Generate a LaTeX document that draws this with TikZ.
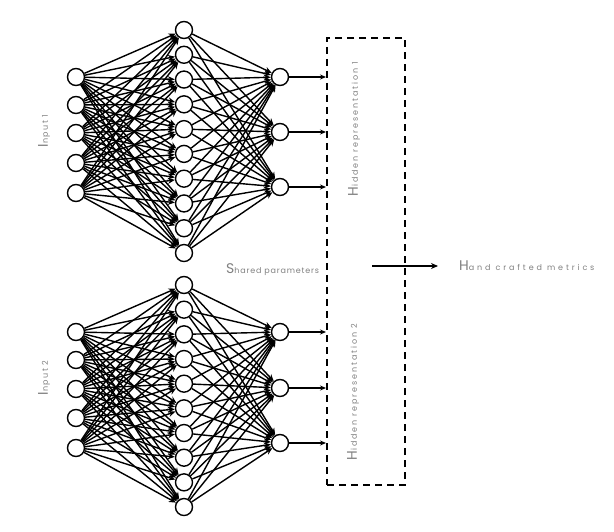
\documentclass[tikz,border=0pt]{standalone}
\usepackage{fontspec}
\setmainfont{Poppins}
\usetikzlibrary{arrows.meta}
\newcommand{\capl}[1]{{\fontsize{14}{14}\selectfont #1}}
\newcommand{\smallt}[2][18]{{\fontsize{8}{9}\selectfont\addfontfeature{LetterSpace=#1}#2}}
\begin{document}
\begin{tikzpicture}[x=1pt,y=-1pt,
  neuron/.style={circle,draw,line width=1.4pt,minimum size=17pt,inner sep=0pt,fill=white},
  conn/.style={line width=1.4pt,-{Stealth[length=7pt,width=6pt]}},
  outarrow/.style={line width=1.4pt,-{Stealth[length=6pt,width=5pt]}},
  lab/.style={text=black!50,inner sep=0pt},
  boxstyle/.style={draw,line width=2.8pt,dash pattern=on 7pt off 5pt,inner sep=0pt}]
\useasboundingbox (0,0) rectangle (614,532);
% top network
\foreach \i/\y in {1/77,2/105,3/133,4/163,5/193}{\node[neuron] (ia\i) at (76,\y) {};}
\foreach \i in {1,...,10}{\node[neuron] (ha\i) at (184,{30+(\i-1)*24.78}) {};}
\foreach \i/\y in {1/77,2/132,3/187}{\node[neuron] (oa\i) at (280,\y) {};}
% bottom network
\foreach \i/\y in {1/332,2/360,3/389,4/418,5/448}{\node[neuron] (ib\i) at (76,\y) {};}
\foreach \i in {1,...,10}{\node[neuron] (hb\i) at (184,{285+(\i-1)*24.67}) {};}
\foreach \i/\y in {1/332,2/388,3/443}{\node[neuron] (ob\i) at (280,\y) {};}
% connections
\foreach \a in {1,...,5}{\foreach \b in {1,...,10}{
  \draw[conn] (ia\a) -- (ha\b);
  \draw[conn] (ib\a) -- (hb\b);}}
\foreach \a in {1,...,10}{\foreach \b in {1,2,3}{
  \draw[conn] (ha\a) -- (oa\b);
  \draw[conn] (hb\a) -- (ob\b);}}
% box
\node[boxstyle,minimum width=78pt,minimum height=447pt] (box) at (366,261.5) {};
\foreach \i/\y in {1/77,2/132,3/187}{\coordinate (ta\i) at (326,\y); \draw[outarrow] (oa\i) -- (ta\i);}
\foreach \i/\y in {1/332,2/388,3/443}{\coordinate (tb\i) at (326,\y); \draw[outarrow] (ob\i) -- (tb\i);}
% output arrow
\coordinate (m1) at (372,266);
\coordinate (m2) at (438,266);
\draw[line width=1.4pt,-{Stealth[length=7pt,width=6pt]}] (m1) -- (m2);
% labels
\node[lab,anchor=base west] (hcm) at (459,271) {\capl{H}\smallt[36]{and crafted metrics}};
\node[lab,anchor=base west] (sp) at (226,273) {\capl{S}\smallt[10]{hared parameters}};
\node[lab,rotate=90] (in1) at (44,131) {\capl{I}\smallt{nput 1}};
\node[lab,rotate=90] (in2) at (44,378) {\capl{I}\smallt{nput 2}};
\node[lab,rotate=90] (hr1) at (354,129) {\capl{H}\smallt[24]{idden representation 1}};
\node[lab,rotate=90] (hr2) at (353,392) {\capl{H}\smallt[24]{idden representation 2}};
\end{tikzpicture}
\end{document}
